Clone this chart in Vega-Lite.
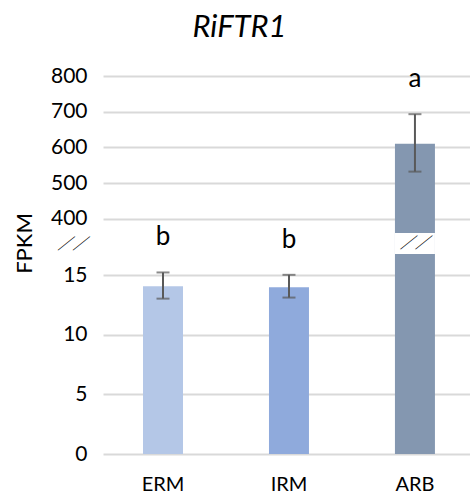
{
  "$schema": "https://vega.github.io/schema/vega-lite/v6.json",
  "width": 367,
  "height": 378,
  "autosize": "none",
  "padding": {"left": 103, "top": 76, "right": 0, "bottom": 41},
  "background": "white",
  "title": {
    "text": "RiFTR1",
    "font": "Lato",
    "fontSize": 31,
    "fontStyle": "italic",
    "fontWeight": "normal",
    "color": "#000000",
    "anchor": "middle",
    "dx": -47,
    "offset": 21
  },
  "config": {
    "view": {"stroke": null},
    "text": {"font": "Lato"}
  },
  "data": {
    "values": [
      {"tissue": "ERM", "mean": 14.1, "lo": 13.05, "hi": 15.25, "group": "b"},
      {"tissue": "IRM", "mean": 14.0, "lo": 13.14, "hi": 15.05, "group": "b"},
      {"tissue": "ARB", "mean": 610, "lo": 532, "hi": 693, "group": "a"}
    ]
  },
  "encoding": {
    "x": {
      "field": "tissue",
      "type": "nominal",
      "sort": null,
      "scale": {"paddingInner": 0.6825, "paddingOuter": 0.298, "align": 0.533},
      "axis": {
        "title": null,
        "domain": false,
        "ticks": false,
        "labelAngle": 0,
        "labelFont": "Lato",
        "labelFontSize": 20,
        "labelColor": "#000000",
        "labelPadding": 20
      }
    }
  },
  "layer": [
    {
      "mark": {"type": "bar"},
      "encoding": {
        "y": {
          "field": "mean",
          "type": "quantitative",
          "scale": {
            "domain": [0, 16.8, 360, 800],
            "range": [378, 178, 157, 0],
            "nice": false,
            "zero": false
          },
          "axis": {
            "values": [0, 5, 10, 15, 190, 400, 500, 600, 700, 800],
            "labelExpr": "datum.value == 190 ? '／／' : datum.label",
            "domain": false,
            "ticks": false,
            "labelFont": {"condition": {"test": "datum.value == 190", "value": "Noto Sans CJK JP"}, "value": "Lato"},
            "labelFontSize": {"condition": {"test": "datum.value == 190", "value": 15}, "value": 21},
            "labelFontStyle": {"condition": {"test": "datum.value == 190", "value": "italic"}, "value": "normal"},
            "labelFontWeight": {"condition": {"test": "datum.value == 190", "value": "bold"}, "value": "normal"},
            "labelColor": "#000000",
            "labelPadding": 16,
            "grid": true,
            "gridColor": {"condition": {"test": "datum.value == 190", "value": "transparent"}, "value": "#d9d9d9"},
            "gridWidth": 1.8,
            "title": "FPKM",
            "titleFont": "Lato",
            "titleFontSize": 22,
            "titleFontWeight": "normal",
            "titleColor": "#000000",
            "titleAngle": -90,
            "titleX": -79,
            "titleY": 167,
            "titleAlign": "center",
            "titleBaseline": "middle"
          }
        },
        "color": {
          "field": "tissue",
          "type": "nominal",
          "scale": {"domain": ["ERM", "IRM", "ARB"], "range": ["#b4c7e7", "#8faadc", "#8497b0"]},
          "legend": null
        }
      }
    },
    {
      "transform": [{"filter": "datum.tissue == 'ARB'"}],
      "mark": {"type": "bar", "color": "white"},
      "encoding": {
        "y": {"datum": 16.8, "type": "quantitative"},
        "y2": {"datum": 360}
      }
    },
    {
      "mark": {"type": "rule", "color": "#595959", "strokeWidth": 2},
      "encoding": {
        "y": {"field": "lo", "type": "quantitative"},
        "y2": {"field": "hi"}
      }
    },
    {
      "mark": {"type": "tick", "color": "#595959", "thickness": 2, "size": 13},
      "encoding": {"y": {"field": "lo", "type": "quantitative"}}
    },
    {
      "mark": {"type": "tick", "color": "#595959", "thickness": 2, "size": 13},
      "encoding": {"y": {"field": "hi", "type": "quantitative"}}
    },
    {
      "mark": {"type": "text", "fontSize": 26, "dy": -27, "baseline": "alphabetic", "color": "#000000"},
      "encoding": {
        "y": {"field": "hi", "type": "quantitative"},
        "text": {"field": "group"}
      }
    },
    {
      "transform": [{"filter": "datum.tissue == 'ARB'"}],
      "mark": {"type": "text", "text": "／／", "font": "Noto Sans CJK JP", "fontSize": 15, "fontWeight": "bold", "fontStyle": "italic", "baseline": "middle", "color": "#000000"},
      "encoding": {
        "y": {"datum": 190, "type": "quantitative"}
      }
    }
  ]
}
